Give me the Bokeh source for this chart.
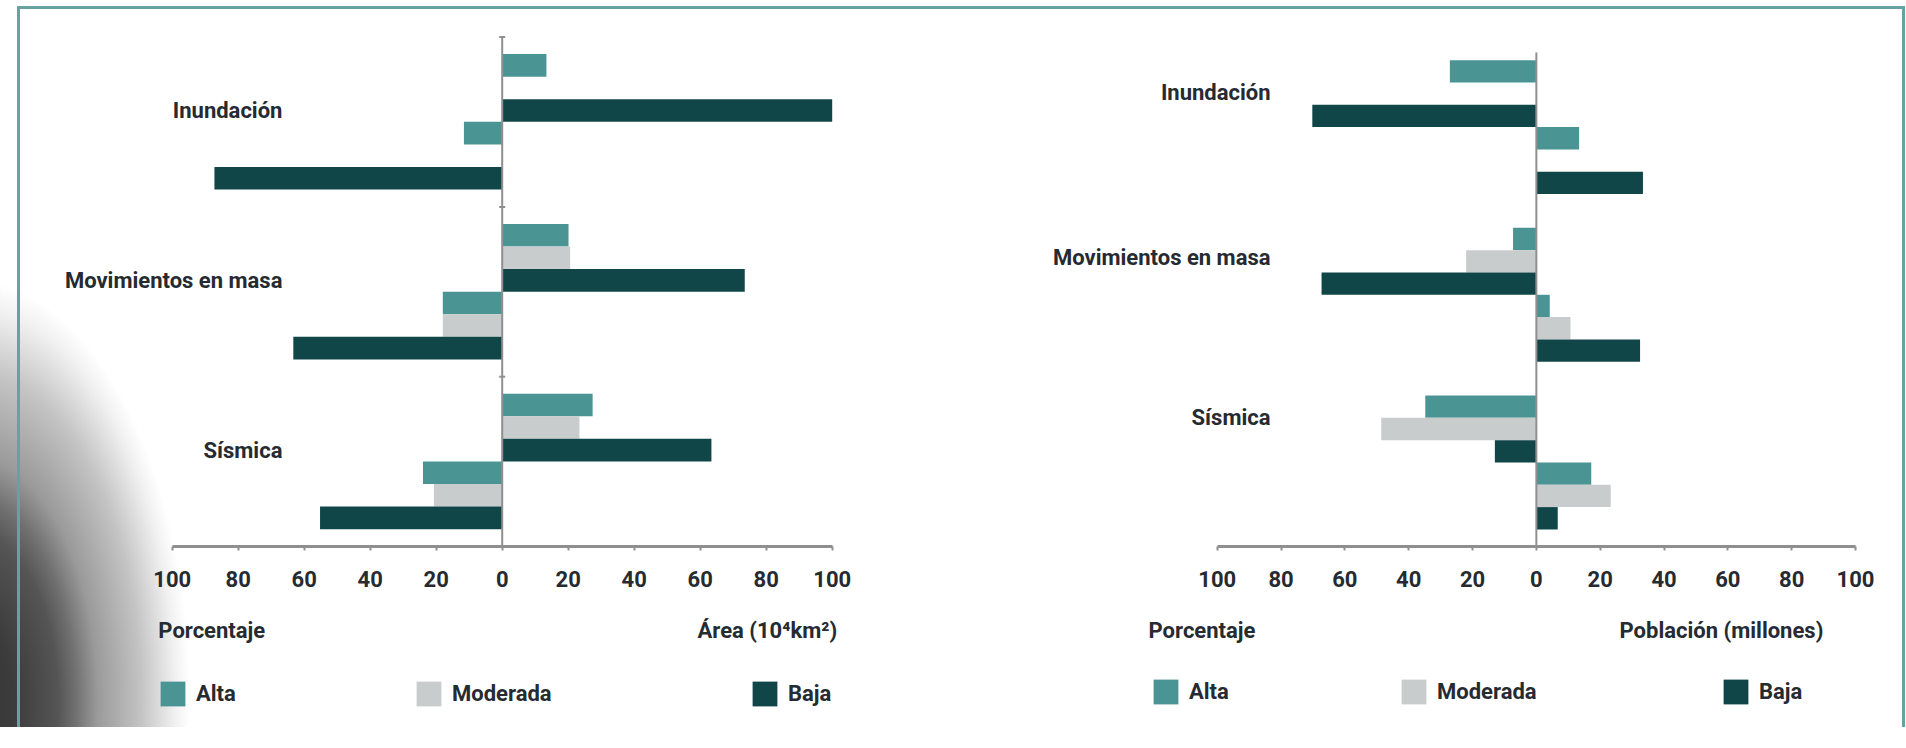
from bokeh.plotting import figure
from bokeh.models import (Range1d, LinearAxis, FixedTicker, CustomJSTickFormatter,
                          ColumnDataSource, Legend, LegendItem)
from bokeh.layouts import row, column
from bokeh.embed import file_html
from bokeh.resources import INLINE
from bokeh.core.properties import value

# ---------------- data ----------------
hazards = ["Inundación", "Movimientos en masa", "Sísmica"]
levels = ["Alta", "Moderada", "Baja"]

# left chart: area (10^4 km2, right side) and percentage (left side)
area_alta = [13.4, 20.1, 27.4]
area_moderada = [0, 20.6, 23.4]
area_baja = [100, 73.5, 63.4]
area_pct_alta = [11.6, 18.0, 24.0]
area_pct_moderada = [0, 18.0, 20.7]
area_pct_baja = [87.2, 63.3, 55.2]

# right chart: percentage (left side) and population (millions, right side)
pob_pct_alta = [27.1, 7.3, 34.8]
pob_pct_moderada = [0, 22.0, 48.6]
pob_pct_baja = [70.2, 67.3, 13.0]
pob_alta = [13.4, 4.2, 17.2]
pob_moderada = [0, 10.7, 23.3]
pob_baja = [33.4, 32.5, 6.7]

tick_values = [-100, -80, -60, -40, -20, 0, 20, 40, 60, 80, 100]

# ---------------- style ----------------
FONT = "Roboto"
WEIGHT = "bold"
TEXT = "#262a31"
COLORS = ["#4a9593", "#c9cccd", "#114649"]
AXIS = "#8f8f8f"
FS = "22px"
H = 0.133     # slot height (group units)
PAD = 0.100   # padding at top of each group
PAGE_H = 748
FRAME_H = 546   # page y of the x axis
TOP_H = 616     # height of the bars figure (frame + axis panel)
BOT_H = PAGE_H - TOP_H
SW = 31         # legend glyph box (area swatch is drawn 10% inset -> 25 px)


def base_fig(width, height, xr, yr, bottom):
    p = figure(width=width, height=height, x_range=xr, y_range=yr,
               output_backend="svg", toolbar_location=None,
               x_axis_location=None, y_axis_location=None,
               min_border_left=0, min_border_right=0, min_border_top=0,
               min_border_bottom=bottom,
               background_fill_color=None, border_fill_color=None,
               outline_line_color=None)
    p.grid.visible = False
    return p


def text_kw(align, baseline):
    return dict(text_font=value(FONT), text_font_size=FS, text_font_style=WEIGHT,
                text_color=TEXT, text_align=align, text_baseline=baseline)


def make_chart(width, page_left, zero_px, ppu, pitch, first_vals, first_sign,
               second_vals, second_sign, label_x, label_slots, line_top, line_ticks,
               legend_px, legend_bottom, pct_x, unit_text, unit_x, unit_align):
    xr = Range1d((page_left - zero_px) / ppu, (page_left + width - zero_px) / ppu)
    p = base_fig(width, TOP_H, xr, Range1d(0, FRAME_H / pitch), TOP_H - FRAME_H)
    n = len(hazards)

    for li, lev in enumerate(levels):
        ys, lefts, rights = [], [], []
        for side, (vals, sign) in enumerate([(first_vals[li], first_sign),
                                             (second_vals[li], second_sign)]):
            for gi in range(n):
                slot = li + 3 * side
                ys.append(n - gi - PAD - (slot + 0.5) * H)
                v = vals[gi] * sign
                lefts.append(min(0, v))
                rights.append(max(0, v))
        src = ColumnDataSource(dict(y=ys, left=lefts, right=rights))
        p.hbar(y="y", left="left", right="right", height=H, source=src,
               fill_color=COLORS[li], line_color=None)

    # zero line (with small ticks at the group boundaries)
    p.segment(x0=[0], y0=[0], x1=[0], y1=[line_top], line_color=AXIS, line_width=2)
    if line_ticks:
        p.scatter(x=[0] * n, y=list(range(1, n + 1)), marker="dash", size=6,
                  line_color=AXIS, line_width=2)

    # hazard labels
    p.text(x=[label_x] * n,
           y=[n - gi - PAD - label_slots[gi] * H for gi in range(n)],
           text=hazards, **text_kw("right", "middle"))

    ax = LinearAxis(ticker=FixedTicker(ticks=tick_values),
                    formatter=CustomJSTickFormatter(code="return Math.abs(tick).toString();"),
                    bounds=(-100, 100))
    ax.axis_line_color = AXIS
    ax.axis_line_width = 3
    ax.major_tick_line_color = AXIS
    ax.major_tick_line_width = 2
    ax.major_tick_in = 0
    ax.major_tick_out = 4
    ax.minor_tick_line_color = None
    ax.major_label_text_font = FONT
    ax.major_label_text_font_style = WEIGHT
    ax.major_label_text_font_size = FS
    ax.major_label_text_color = TEXT
    ax.major_label_standoff = 20
    p.add_layout(ax, "below")

    # lower figure: axis captions and legend
    q = base_fig(width, BOT_H, xr, Range1d(0, BOT_H), 0)
    q.text(x=[pct_x], y=[PAGE_H - 630], text=["Porcentaje"], **text_kw("left", "middle"))
    q.text(x=[unit_x], y=[PAGE_H - 630], text=[unit_text], **text_kw(unit_align, "middle"))
    for li, lev in enumerate(levels):
        # zero-width bar: only provides the legend swatch
        r = q.hbar(y=[0], left=[0], right=[0], height=1,
                   fill_color=COLORS[li], line_color=None)
        leg = Legend(items=[LegendItem(label=lev, renderers=[r])],
                     location=(legend_px[li] - page_left - 3, PAGE_H - legend_bottom - 3),
                     orientation="horizontal", padding=0, margin=0,
                     border_line_color=None, background_fill_alpha=0,
                     glyph_width=SW, glyph_height=SW, label_height=SW,
                     label_standoff=8, label_text_font=FONT,
                     label_text_font_style=WEIGHT,
                     label_text_font_size=FS, label_text_color=TEXT)
        q.add_layout(leg)
    return column(p, q, spacing=0)


left = make_chart(950, 0, 501.7, 3.30, 169.8,
                  [area_alta, area_moderada, area_baja], 1,
                  [area_pct_alta, area_pct_moderada, area_pct_baja], -1,
                  -66.6, [2.5, 2.5, 2.5], 3.0, True,
                  [160, 416, 752], 706, -104.2, "Área (10⁴km²)", 101.5, "right")

right = make_chart(956, 950, 1535.85, 3.1915, 167.7,
                   [pob_pct_alta, pob_pct_moderada, pob_pct_baja], -1,
                   [pob_alta, pob_moderada, pob_baja], 1,
                   -83.3, [1.44, 1.32, 0.98], 2.946, False,
                   [1153, 1401, 1723], 704, -121.5, "Población (millones)", 58.0, "center")

BORDER = "#67a2a2"
bg = ", ".join([
    f"linear-gradient({BORDER},{BORDER}) 17px 6px / 3px 721px no-repeat",
    f"linear-gradient({BORDER},{BORDER}) 17px 6px / 1888px 3px no-repeat",
    f"linear-gradient({BORDER},{BORDER}) 1902px 6px / 3px 721px no-repeat",
    "radial-gradient(ellipse 220px 420px at -30px 700px, "
    "#333333 0%, #3c3c3c 20%, #555555 40%, #707070 48%, #9a9a9a 58%, "
    "#c4c4c4 78%, #f0f0f0 93%, rgba(255,255,255,0) 100%) "
    "0px 0px / 420px 727px no-repeat",
    "#ffffff",
])

layout = row(left, right, spacing=0, styles={"background": bg})

open("out.html", "w").write(file_html(layout, INLINE))
